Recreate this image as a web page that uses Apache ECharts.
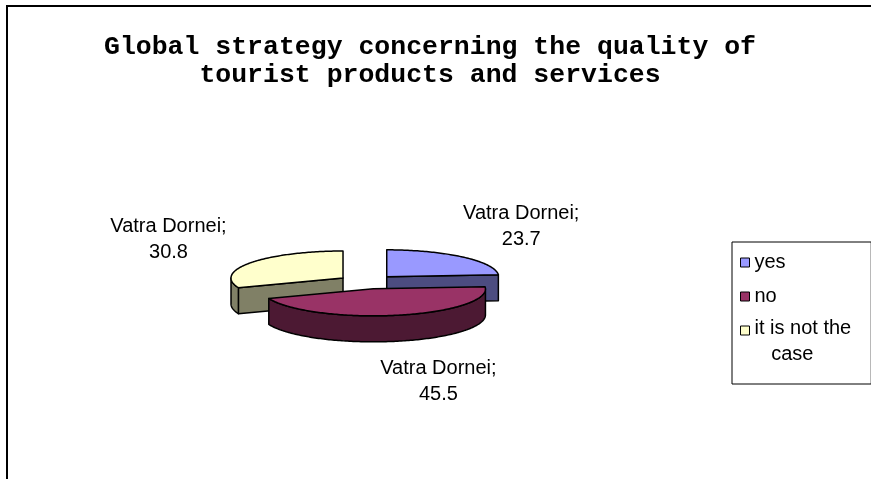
<!DOCTYPE html>
<html>
<head>
<meta charset="utf-8">
<title>Global strategy concerning the quality of tourist products and services</title>
<script src="https://cdn.jsdelivr.net/npm/echarts@6/dist/echarts.min.js"></script>
<style>
  html, body { margin: 0; padding: 0; background: #ffffff; }
  #chart { width: 871px; height: 479px; }
</style>
</head>
<body>
<div id="chart"></div>
<script>
// Survey answers for Vatra Dornei (percent of respondents)
const categories = ['yes', 'no', 'it is not the case'];
const shares = [23.7, 45.5, 30.8];
const seriesName = 'Vatra Dornei';

// Face colours: top of each slice and its shaded side walls
const topColors = ['#9999FF', '#993366', '#FFFFCC'];
const sideColors = ['#4C4C80', '#4C1933', '#808066'];

// Tilted-pie geometry (pixels)
const PIE = { cx: 367, cy: 282, rx: 112, ry: 27, depth: 26, explode: 0.26 };
const LABEL = {
  rx: 235, ry: 75, shift: -5, lowShift: 25,
  font: '20px "Liberation Sans", Arial, sans-serif', lineHeight: 26
};

const total = shares.reduce((a, b) => a + b, 0);

function point(theta, dx, dy, drop) {
  return [
    PIE.cx + dx + PIE.rx * Math.sin(theta),
    PIE.cy + dy - PIE.ry * Math.cos(theta) + drop
  ];
}

function arc(a0, a1, dx, dy, drop) {
  const n = Math.max(2, Math.ceil((a1 - a0) / (Math.PI / 180)));
  const pts = [];
  for (let i = 0; i <= n; i++) {
    pts.push(point(a0 + (a1 - a0) * i / n, dx, dy, drop));
  }
  return pts;
}

function sliceRenderer(idx) {
  return function (params, api) {
    const value = api.value(0);
    let before = 0;
    for (let i = 0; i < idx; i++) before += shares[i];
    const a0 = before / total * Math.PI * 2;
    const a1 = (before + value) / total * Math.PI * 2;
    const mid = (a0 + a1) / 2;
    const dx = PIE.explode * PIE.rx * Math.sin(mid);
    const dy = -PIE.explode * PIE.ry * Math.cos(mid);
    const c = [PIE.cx + dx, PIE.cy + dy];
    const cb = [c[0], c[1] + PIE.depth];
    const z2 = 10 + Math.round(-10 * Math.cos(mid));
    const edge = { stroke: '#000000', lineWidth: 1.5, lineJoin: 'round' };
    const side = Object.assign({ fill: sideColors[idx] }, edge);
    const children = [];

    // radial cut faces that turn towards the viewer
    [[a0, Math.sin(a0) < -1e-6], [a1, Math.sin(a1) > 1e-6]].forEach(function (f) {
      if (!f[1]) return;
      const rt = point(f[0], dx, dy, 0);
      const rb = point(f[0], dx, dy, PIE.depth);
      children.push({
        type: 'polygon', z2: z2,
        shape: { points: [c, rt, rb, cb] },
        style: side
      });
    });

    // curved outer wall on the front half of the rim
    const w0 = Math.max(a0, Math.PI / 2);
    const w1 = Math.min(a1, Math.PI * 1.5);
    if (w1 > w0) {
      const upper = arc(w0, w1, dx, dy, 0);
      const lower = arc(w0, w1, dx, dy, PIE.depth).reverse();
      children.push({
        type: 'polygon', z2: z2,
        shape: { points: upper.concat(lower) },
        style: side
      });
    }

    // top face
    children.push({
      type: 'polygon', z2: z2 + 1,
      shape: { points: [c].concat(arc(a0, a1, dx, dy, 0)) },
      style: Object.assign({ fill: topColors[idx] }, edge)
    });

    // data label: outside the rim, lower labels nudged to the right
    const front = Math.max(0, -Math.cos(mid));
    const lx = PIE.cx + LABEL.rx * Math.sin(mid) + LABEL.shift + LABEL.lowShift * front;
    const ly = PIE.cy - LABEL.ry * Math.cos(mid) + (Math.cos(mid) < 0 ? PIE.depth : 0);
    children.push({
      type: 'text', z2: 100,
      x: lx, y: ly,
      style: {
        text: seriesName + ';\n' + value.toFixed(1),
        font: LABEL.font,
        lineHeight: LABEL.lineHeight,
        fill: '#000000',
        align: 'center',
        verticalAlign: 'middle'
      }
    });

    return { type: 'group', children: children };
  };
}

// Legend: long names wrap after the fourth word with an indented remainder,
// and their swatch sits beside the first line instead of the block centre.
const ICON = { w: 9, h: 30, box: 9 };

function isWrapped(name) {
  return name.split(' ').length > 4;
}

function legendText(name) {
  if (!isWrapped(name)) return name;
  const words = name.split(' ');
  return words.slice(0, 4).join(' ') + '\n   ' + words.slice(4).join(' ');
}

function legendIcon(name) {
  const top = isWrapped(name) ? 0 : (ICON.h - ICON.box) / 2;
  return 'path://M0,0M0,' + top + 'h' + ICON.box + 'v' + ICON.box + 'h-' + ICON.box + 'zM' + ICON.w + ',' + ICON.h;
}

const chart = echarts.init(document.getElementById('chart'), null, { renderer: 'canvas' });

chart.setOption({
  backgroundColor: '#ffffff',
  animation: false,
  title: {
    text: 'Global strategy concerning the quality of\ntourist products and services',
    left: 430,
    top: 33,
    padding: 0,
    textAlign: 'center',
    textStyle: {
      fontFamily: '"Liberation Mono", "Courier New", monospace',
      fontWeight: 'bold',
      fontSize: 26.5,
      lineHeight: 28,
      color: '#000000'
    }
  },
  legend: {
    data: categories.map(function (name) {
      return { name: name, icon: legendIcon(name) };
    }),
    orient: 'vertical',
    left: 732,
    top: 242,
    padding: [5, 20, 17, 8],
    itemGap: 3,
    itemWidth: ICON.w,
    itemHeight: ICON.h,
    itemTextGap: 7,
    backgroundColor: '#ffffff',
    borderColor: '#000000',
    borderWidth: 1,
    borderRadius: 0,
    itemStyle: { borderColor: '#000000', borderWidth: 1 },
    formatter: legendText,
    textStyle: {
      fontFamily: '"Liberation Sans", Arial, sans-serif',
      fontSize: 20,
      lineHeight: 26,
      color: '#000000'
    }
  },
  graphic: [{
    type: 'rect',
    silent: true,
    z: -1,
    shape: { x: 7, y: 6, width: 900, height: 500 },
    style: { fill: 'none', stroke: '#000000', lineWidth: 2 }
  }],
  series: categories.map(function (name, i) {
    return {
      type: 'custom',
      name: name,
      coordinateSystem: 'none',
      itemStyle: { color: topColors[i] },
      renderItem: sliceRenderer(i),
      data: [[shares[i]]]
    };
  })
});
</script>
</body>
</html>
